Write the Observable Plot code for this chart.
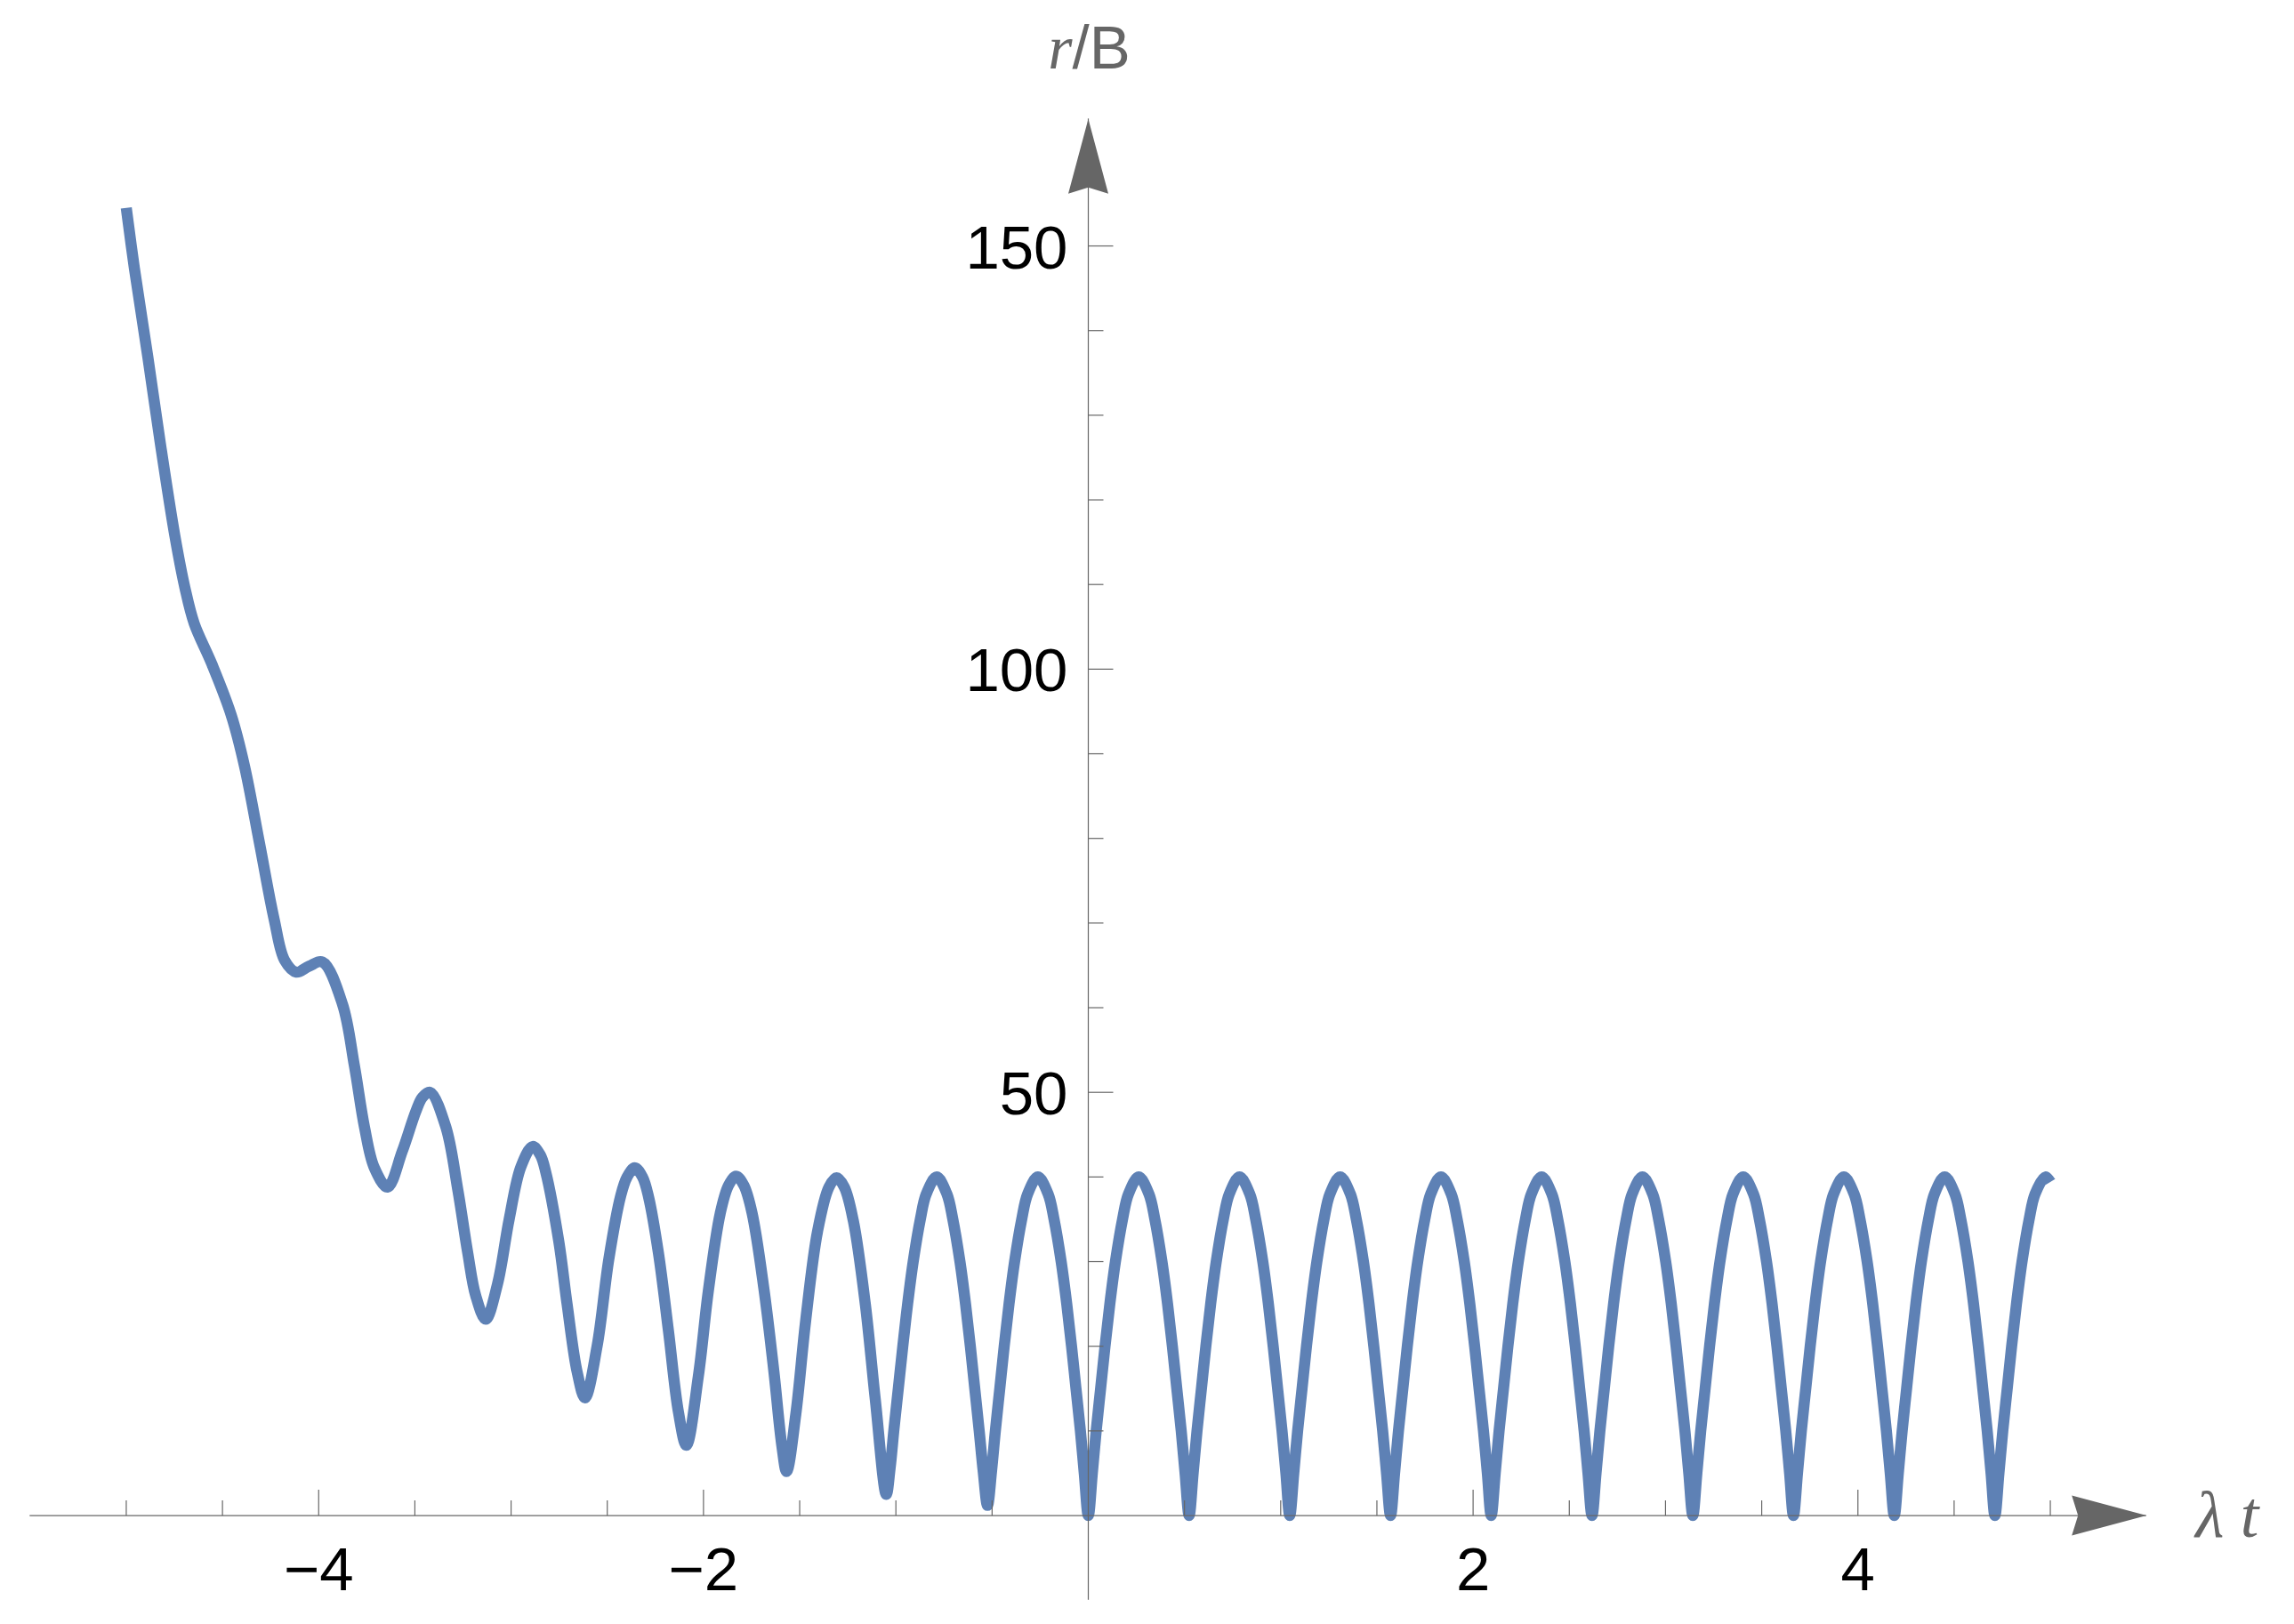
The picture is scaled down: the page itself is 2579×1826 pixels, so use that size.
<!DOCTYPE html>
<html>
<head>
<meta charset="utf-8">
<script src="https://cdn.jsdelivr.net/npm/d3@7"></script>
<script src="https://cdn.jsdelivr.net/npm/@observablehq/plot@0.6"></script>
<style>
  html, body { margin: 0; padding: 0; background: #ffffff; }
  #chart svg { display: block; }
</style>
</head>
<body>
<div id="chart"></div>
<script>
// ---- data ----
// early, decaying part (λt from -5 to about -1.1)
const tDecay = [-5.000, -4.958, -4.888, -4.823, -4.747, -4.695, -4.647, -4.555, -4.455, -4.385,
  -4.308, -4.231, -4.177, -4.116, -4.050, -3.980, -3.876, -3.814, -3.762, -3.711,
  -3.642, -3.566, -3.494, -3.461, -3.421, -3.339, -3.277, -3.225, -3.184, -3.132,
  -3.071, -3.010, -2.949, -2.888, -2.848, -2.820, -2.752, -2.709, -2.657, -2.616,
  -2.553, -2.492, -2.430, -2.397, -2.357, -2.317, -2.285, -2.234, -2.182, -2.130,
  -2.089, -2.027, -1.975, -1.913, -1.870, -1.830, -1.790, -1.748, -1.686, -1.634,
  -1.593, -1.568, -1.520, -1.469, -1.407, -1.348, -1.308, -1.268, -1.221, -1.159,
  -1.107];
const rDecay = [154.5, 147.4, 136.9, 126.7, 115.7, 109.6, 105.4, 100.6, 94.6, 88.5,
  79.5, 70.4, 65.6, 64.2, 64.9, 65.4, 60.4, 53.1, 45.9, 41.1,
  38.8, 43.0, 47.8, 49.4, 50.0, 45.9, 38.5, 31.0, 26.0, 23.2,
  27.3, 35.0, 41.2, 43.6, 42.6, 40.6, 32.4, 25.0, 17.0, 13.9,
  20.0, 30.3, 37.8, 40.0, 41.1, 40.0, 37.6, 31.0, 21.8, 12.2,
  8.3, 16.4, 26.5, 35.7, 39.0, 40.1, 39.0, 35.8, 26.8, 17.0,
  8.3, 5.2, 12.0, 23.0, 33.6, 38.8, 39.9, 38.8, 34.8, 25.0,
  13.7];
// last two arches before the origin (λt from -1.05 to 0)
const tNear = [-1.050, -1.030, -1.010, -0.987, -0.964, -0.939, -0.910, -0.873, -0.842, -0.788,
  -0.735, -0.704, -0.667, -0.638, -0.613, -0.590, -0.567, -0.546,
  -0.524, -0.503, -0.483, -0.460, -0.437, -0.412, -0.383, -0.346, -0.315, -0.262,
  -0.209, -0.178, -0.141, -0.112, -0.087, -0.064, -0.041, -0.021, 0];
const rNear = [2.5, 5.6, 10.2, 15.1, 20, 25, 30, 35, 38, 40,
  38, 35, 30, 25, 20, 15, 10, 5.2,
  1.2, 5.2, 10, 15, 20, 25, 30, 35, 38, 40,
  38, 35, 30, 25, 20, 15, 10, 5, 0];
// steady oscillation (λt from 0 to 5)
const tSteady = [
  0.021, 0.041, 0.064, 0.087, 0.112, 0.141, 0.178, 0.209, 0.262, 0.315, 0.346, 0.383, 0.412, 0.437, 0.460, 0.483, 0.503, 0.524,
  0.545, 0.565, 0.588, 0.611, 0.636, 0.665, 0.702, 0.733, 0.786, 0.839, 0.870, 0.907, 0.936, 0.961, 0.984, 1.007, 1.027, 1.047,
  1.068, 1.088, 1.111, 1.134, 1.159, 1.188, 1.225, 1.256, 1.309, 1.362, 1.393, 1.430, 1.459, 1.484, 1.507, 1.530, 1.550, 1.571,
  1.592, 1.612, 1.635, 1.658, 1.683, 1.712, 1.749, 1.780, 1.833, 1.886, 1.917, 1.954, 1.983, 2.008, 2.031, 2.054, 2.074, 2.094,
  2.115, 2.135, 2.158, 2.181, 2.206, 2.235, 2.272, 2.303, 2.356, 2.409, 2.440, 2.477, 2.506, 2.531, 2.554, 2.577, 2.597, 2.618,
  2.639, 2.659, 2.682, 2.705, 2.730, 2.759, 2.796, 2.827, 2.880, 2.933, 2.964, 3.001, 3.030, 3.055, 3.078, 3.101, 3.121, 3.142,
  3.163, 3.183, 3.206, 3.229, 3.254, 3.283, 3.320, 3.351, 3.404, 3.457, 3.488, 3.525, 3.554, 3.579, 3.602, 3.625, 3.645, 3.665,
  3.686, 3.706, 3.729, 3.752, 3.777, 3.806, 3.843, 3.874, 3.927, 3.980, 4.011, 4.048, 4.077, 4.102, 4.125, 4.148, 4.168, 4.189,
  4.210, 4.230, 4.253, 4.276, 4.301, 4.330, 4.367, 4.398, 4.451, 4.504, 4.535, 4.572, 4.601, 4.626, 4.649, 4.672, 4.692, 4.712,
  4.733, 4.753, 4.776, 4.799, 4.824, 4.853, 4.890, 4.921, 4.974, 5.000];
const rSteady = [
  5, 10, 15, 20, 25, 30, 35, 38, 40, 38, 35, 30, 25, 20, 15, 10, 5, 0,
  5, 10, 15, 20, 25, 30, 35, 38, 40, 38, 35, 30, 25, 20, 15, 10, 5, 0,
  5, 10, 15, 20, 25, 30, 35, 38, 40, 38, 35, 30, 25, 20, 15, 10, 5, 0,
  5, 10, 15, 20, 25, 30, 35, 38, 40, 38, 35, 30, 25, 20, 15, 10, 5, 0,
  5, 10, 15, 20, 25, 30, 35, 38, 40, 38, 35, 30, 25, 20, 15, 10, 5, 0,
  5, 10, 15, 20, 25, 30, 35, 38, 40, 38, 35, 30, 25, 20, 15, 10, 5, 0,
  5, 10, 15, 20, 25, 30, 35, 38, 40, 38, 35, 30, 25, 20, 15, 10, 5, 0,
  5, 10, 15, 20, 25, 30, 35, 38, 40, 38, 35, 30, 25, 20, 15, 10, 5, 0,
  5, 10, 15, 20, 25, 30, 35, 38, 40, 38, 35, 30, 25, 20, 15, 10, 5, 0,
  5, 10, 15, 20, 25, 30, 35, 38, 40, 39.4];

const xMajorTicks = [-4, -2, 2, 4];
const xTickLabels = ["\u22124", "\u22122", "2", "4"];
const xMinorTicks = [-5, -4.5, -3.5, -3, -2.5, -1.5, -1, -0.5, 0.5, 1, 1.5, 2.5, 3, 3.5, 4.5, 5];
const yMajorTicks = [50, 100, 150];
const yTickLabels = ["50", "100", "150"];
const yMinorTicks = [10, 20, 30, 40, 60, 70, 80, 90, 110, 120, 130, 140];
const xAxisLabel = "\u03BB t";
const yAxisLabelVar = "r";
const yAxisLabelRest = "/B";
const xExtent = [-5.5, 5.5];
const yExtent = [-10, 165];

// ---- build ----
const tAll = tDecay.concat(tNear, tSteady);
const rAll = rDecay.concat(rNear, rSteady);
if (tAll.length !== rAll.length) console.warn("length mismatch", tAll.length, rAll.length);
const curveData = tAll.map((t, i) => ({t, r: rAll[i]}));

const AXIS = "#666666";
const LINE = "#5E81B5";
const tickSym = (dx, dy) => ({draw(ctx) { ctx.moveTo(0, 0); ctx.lineTo(dx, dy); }});
const arrowRight = {draw(ctx) {
  ctx.moveTo(0, 0); ctx.lineTo(-84, -22.5); ctx.lineTo(-77, 0); ctx.lineTo(-84, 22.5); ctx.closePath();
}};
const arrowUp = {draw(ctx) {
  ctx.moveTo(0, 0); ctx.lineTo(-22.5, 84); ctx.lineTo(0, 77); ctx.lineTo(22.5, 84); ctx.closePath();
}};
const sans = "'Liberation Sans', Arial, Helvetica, sans-serif";
const serif = "'Liberation Serif', 'Times New Roman', serif";

const chart = Plot.plot({
  width: 2579,
  height: 1826,
  marginLeft: 33.3,
  marginRight: 166.3,
  marginTop: 133.3,
  marginBottom: 27.3,
  x: {domain: xExtent, axis: null},
  y: {domain: yExtent, axis: null},
  style: {background: "#ffffff", overflow: "visible"},
  marks: [
    Plot.line(curveData, {x: "t", y: "r", stroke: LINE, strokeWidth: 12.5, curve: "catmull-rom",
      strokeLinecap: "butt", strokeLinejoin: "round"}),
    // axes
    Plot.ruleY([0], {x1: xExtent[0], x2: xExtent[1], stroke: AXIS, strokeWidth: 1.2}),
    Plot.ruleX([0], {y1: yExtent[0], y2: yExtent[1], stroke: AXIS, strokeWidth: 1.2}),
    // ticks
    Plot.dot(xMajorTicks, {x: d => d, y: 0, symbol: tickSym(0, -29), stroke: AXIS, fill: "none", strokeWidth: 1.2}),
    Plot.dot(xMinorTicks, {x: d => d, y: 0, symbol: tickSym(0, -17), stroke: AXIS, fill: "none", strokeWidth: 1.2}),
    Plot.dot(yMajorTicks, {x: 0, y: d => d, symbol: tickSym(28, 0), stroke: AXIS, fill: "none", strokeWidth: 1.2}),
    Plot.dot(yMinorTicks, {x: 0, y: d => d, symbol: tickSym(17, 0), stroke: AXIS, fill: "none", strokeWidth: 1.2}),
    // arrowheads
    Plot.dot([xExtent[1]], {x: d => d, y: 0, symbol: arrowRight, fill: AXIS, stroke: "none"}),
    Plot.dot([yExtent[1]], {x: 0, y: d => d, symbol: arrowUp, fill: AXIS, stroke: "none"}),
    // tick labels
    Plot.text(xMajorTicks, {x: d => d, y: 0, text: (d, i) => xTickLabels[i], lineAnchor: "bottom",
      dy: 83.5, textAnchor: "middle", fontSize: 69, fontFamily: sans, fill: "#000"}),
    Plot.text(yMajorTicks, {x: 0, y: d => d, text: (d, i) => yTickLabels[i], lineAnchor: "bottom",
      dy: 25, dx: -23, textAnchor: "end", fontSize: 69, fontFamily: sans, fill: "#000"}),
    // axis labels
    Plot.text([xAxisLabel], {x: xExtent[1], y: 0, text: d => d, lineAnchor: "bottom", dy: 23.5, dx: 55,
      textAnchor: "start", fontSize: 74, fontFamily: serif, fontStyle: "italic", fill: AXIS}),
    Plot.text([yAxisLabelVar], {x: 0, y: yExtent[1], text: d => d, lineAnchor: "bottom", dy: -57, dx: -18,
      textAnchor: "end", fontSize: 70, fontFamily: serif, fontStyle: "italic", fill: AXIS}),
    Plot.text([yAxisLabelRest], {x: 0, y: yExtent[1], text: d => d, lineAnchor: "bottom", dy: -57, dx: -18,
      textAnchor: "start", fontSize: 69, fontFamily: sans, fill: AXIS})
  ]
});
document.getElementById("chart").appendChild(chart);
</script>
</body>
</html>
